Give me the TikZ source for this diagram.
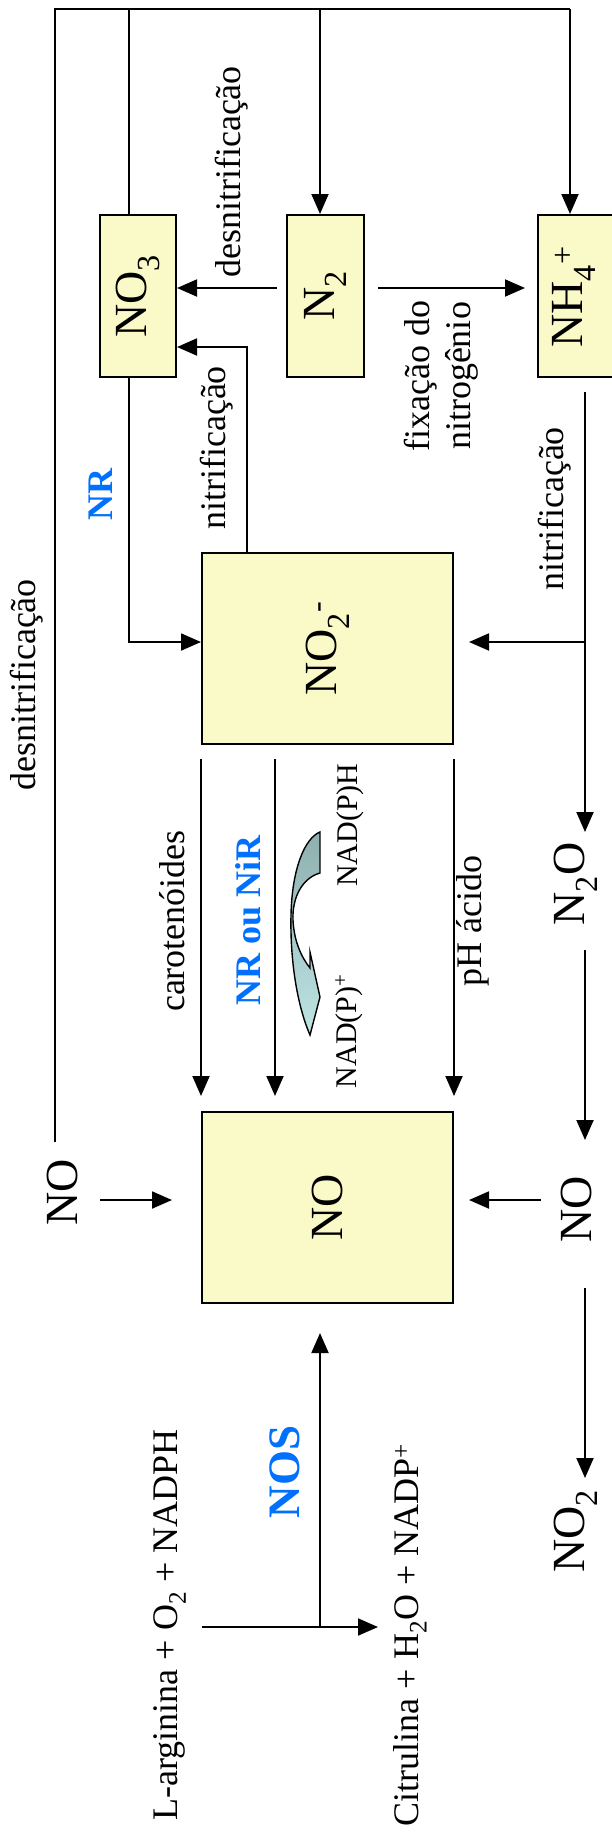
\documentclass[tikz,border=0pt]{standalone}
\usepackage{fontspec}
\setmainfont{Liberation Serif}
\usetikzlibrary{arrows.meta,calc}
\definecolor{boxfill}{RGB}{250,250,200}
\definecolor{enzblue}{RGB}{0,112,255}
\definecolor{arrtop}{RGB}{143,175,175}
\definecolor{arrbot}{RGB}{190,228,228}
\tikzset{
  box/.style={draw, fill=boxfill, line width=2pt, inner sep=0pt, font=\fontsize{46}{50}\selectfont},
  conn/.style={line width=1.9pt},
  arr/.style={conn, -{Triangle[length=20pt,width=17pt]}},
  big/.style={rotate=90, font=\fontsize{46}{50}\selectfont, inner sep=0pt},
  mid/.style={rotate=90, font=\fontsize{36}{41}\selectfont, inner sep=0pt},
  small/.style={rotate=90, font=\fontsize{30}{34}\selectfont, inner sep=0pt},
  enz/.style={rotate=90, font=\fontsize{36}{41}\selectfont\bfseries, text=enzblue, inner sep=0pt},
  enzbig/.style={rotate=90, font=\fontsize{45}{50}\selectfont\bfseries, text=enzblue, inner sep=0pt},
}
\begin{document}
\begin{tikzpicture}[x=1pt,y=-1pt]
\path[use as bounding box] (0,0) rectangle (612,1832);
% boxes
\node[box, minimum width=76pt, minimum height=162pt] (no3) at (138,296) {\rotatebox{90}{NO\textsubscript{3}}};
\node[box, minimum width=77pt, minimum height=162pt] (n2) at (325.5,296) {\rotatebox{90}{N\textsubscript{2}}};
\node[box, minimum width=102pt, minimum height=162pt] (nh4) at (589,296) {};
\node[big] (nh4t) at (574,297) {NH\textsubscript{4}\textsuperscript{+}};
\node[box, minimum width=251pt, minimum height=191pt] (no2) at (327.5,648.5) {\rotatebox{90}{NO\textsubscript{2}\textsuperscript{-}}};
\node[box, minimum width=251pt, minimum height=191pt] (no) at (327.5,1207.5) {\rotatebox{90}{NO}};
% free labels
\node[big] (noL) at (62,1192) {NO};
\node[big] (noR) at (576,1209) {NO};
\node[big] (n2o) at (576,884) {N\textsubscript{2}O};
\node[big] (no2b) at (576,1531) {NO\textsubscript{2}};
\node[mid] (lden1) at (232,172) {desnitrificação};
\node[mid, align=center] (lfix) at (441,376) {fixação do\\nitrogênio};
\node[mid] (lnit1) at (217,448) {nitrificação};
\node[enz] (lnr) at (101,494) {NR};
\node[mid] (lnit2) at (555,509) {nitrificação};
\node[mid] (lden2) at (27,685) {desnitrificação};
\node[mid] (lcar) at (172,921) {carotenóides};
\node[enz] (lnrnir) at (248,920) {NR ou NiR};
\node[small] (lnadph) at (350,825) {NAD(P)H};
\node[small] (lnadp) at (349,1031) {NAD(P)\textsuperscript{+}};
\node[mid] (lph) at (473,921) {pH ácido};
\node[enzbig] (lnos) at (285,1472) {NOS};
\node[mid] (larg) at (170,1625) {L-arginina + O\textsubscript{2} + NADPH};
\node[mid] (lcit) at (410,1635) {Citrulina + H\textsubscript{2}O + NADP\textsuperscript{+}};
% coordinates
\coordinate (ctl) at (55,9);
\coordinate (cno3top) at (129,9);
\coordinate (cn2top) at (320,9);
\coordinate (cnh4top) at (570,9);
\coordinate (cleftend) at (55,1142);
\coordinate (n2l) at (277,288);
\coordinate (n2r) at (378,288);
\coordinate (nh4l) at (525,288);
\coordinate (k1) at (247,347);
\coordinate (k2) at (129,642);
\coordinate (k3) at (585,392);
\coordinate (k4) at (585,642);
\coordinate (k4t) at (469,642);
\coordinate (cn2o) at (585,832);
\coordinate (cn2ob) at (585,950);
\coordinate (cnoRt) at (585,1140);
\coordinate (cnoRa) at (541,1200);
\coordinate (cnoRat) at (469,1200);
\coordinate (cnoRb) at (585,1288);
\coordinate (cno2bt) at (585,1478);
\coordinate (cnoLa) at (100,1200);
\coordinate (cnoLat) at (172,1200);
\coordinate (la) at (202,1627);
\coordinate (lat) at (378,1627);
\coordinate (nosj) at (320,1627);
\coordinate (nostip) at (320,1333);
% connectors
\draw[conn] (cleftend) -- (ctl) -- (cnh4top);
\draw[arr] (cnh4top) -- (cnh4top |- nh4.north);
\draw[arr] (cn2top) -- (cn2top |- n2.north);
\draw[conn] (cno3top) -- (cno3top |- no3.north);
\draw[arr] (n2l) -- (n2l -| no3.east);
\draw[arr] (n2r) -- (nh4l);
\draw[arr] (k1 |- no2.north) -- (k1) -- (k1 -| no3.east);
\draw[arr] (k2 |- no3.south) -- (k2) -- (k2 -| no2.west);
\draw[arr] (k3) -- (cn2o);
\draw[arr] (k4) -- (k4t);
\draw[arr] (cn2ob) -- (cnoRt);
\draw[arr] (cnoRa) -- (cnoRat);
\draw[arr] (cnoRb) -- (cno2bt);
\draw[arr] (cnoLa) -- (cnoLat);
\draw[arr] ($(no2.south west)+(0,14)$) -- ($(no.north west)+(0,-15)$);
\draw[arr] ($(no2.south west)+(74,14)$) -- ($(no.north west)+(74,-15)$);
\draw[arr] ($(no2.south east)+(0,14)$) -- ($(no.north east)+(0,-15)$);
\draw[arr] (la) -- (lat);
\draw[arr] (nosj) -- (nostip);
% curved NAD(P)H arrow
\draw[line width=1.4pt, top color=arrtop, bottom color=arrbot]
  (320,832) -- (320,873)
  .. controls (302,878) and (292,898) .. (293,920)
  .. controls (294,942) and (302,958) .. (310,968)
  -- (310,952) -- (320,997) -- (310,1035)
  .. controls (297,1005) and (290,960) .. (291,915)
  .. controls (292,868) and (305,838) .. (320,832) -- cycle;
\end{tikzpicture}
\end{document}
